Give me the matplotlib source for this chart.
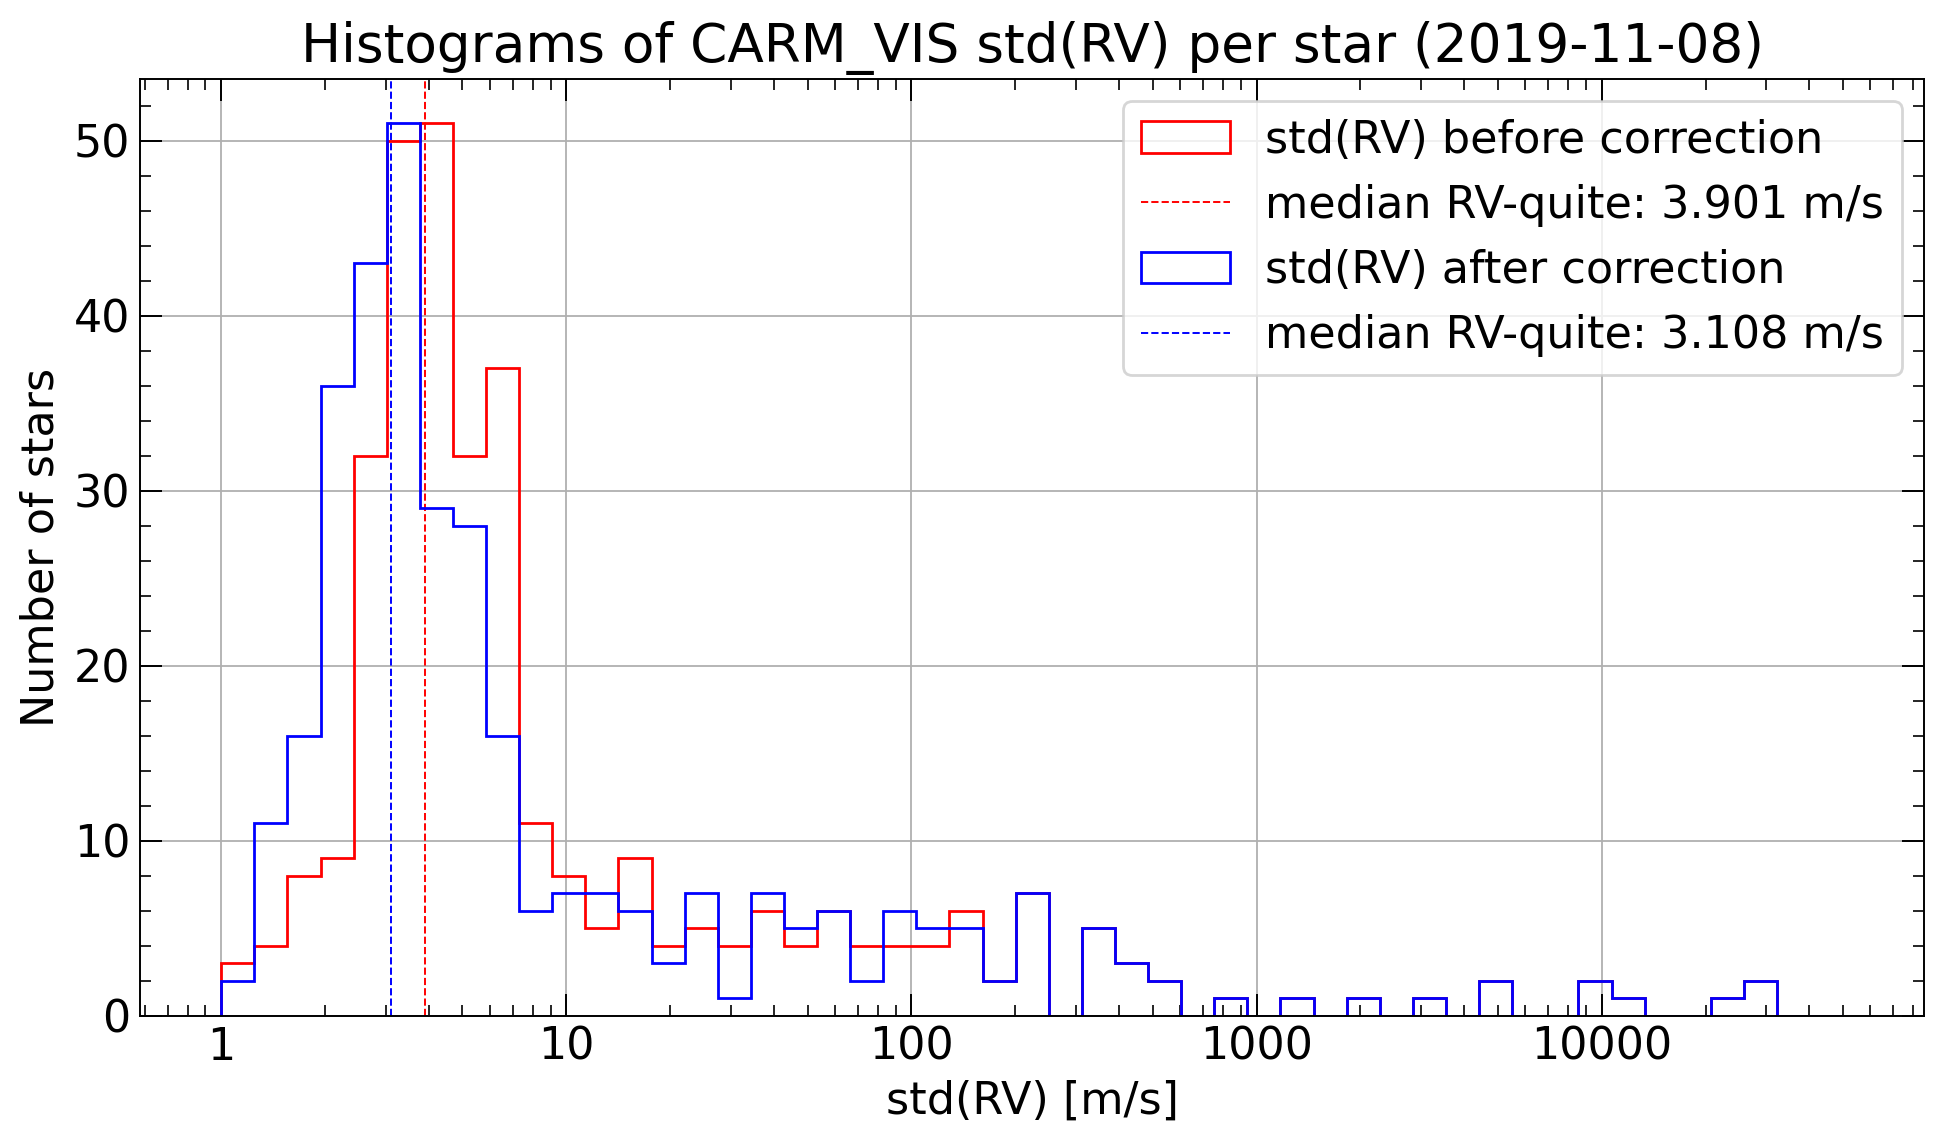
import numpy as np
import matplotlib
matplotlib.use("Agg")
import matplotlib.pyplot as plt
from matplotlib.ticker import ScalarFormatter, AutoMinorLocator

# log-spaced bins, 49 bins from 1 to 10**4.7 m/s
bin_edges = np.logspace(0, 4.7, 50)

# counts per bin
counts_before = [3, 4, 8, 9, 32, 50, 51, 32, 37, 11,
                 8, 5, 9, 4, 5, 4, 6, 4, 6, 4,
                 4, 4, 6, 2, 7, 0, 5, 3, 2, 0,
                 1, 0, 1, 0, 1, 0, 1, 0, 2, 0,
                 0, 2, 1, 0, 0, 1, 2, 0, 0]
counts_after = [2, 11, 16, 36, 43, 51, 29, 28, 16, 6,
                7, 7, 6, 3, 7, 1, 7, 5, 6, 2,
                6, 5, 5, 2, 7, 0, 5, 3, 2, 0,
                1, 0, 1, 0, 1, 0, 1, 0, 2, 0,
                0, 2, 1, 0, 0, 1, 2, 0, 0]
median_before = 3.901
median_after = 3.108

fs = 16
plt.rcParams['font.family'] = 'DejaVu Sans'
plt.rcParams['font.size'] = fs

fig = plt.figure(figsize=(1943/200, 1144/200), dpi=200)
ax = fig.add_axes([0.0721, 0.1119, 0.9183, 0.8194])

left = bin_edges[:-1]
ax.hist(left, bins=bin_edges, weights=counts_before, histtype='step',
        color='red', lw=1.0, label='std(RV) before correction')
ax.axvline(median_before, color='red', ls='--', lw=0.7,
           label='median RV-quite: %.3f m/s' % median_before)
ax.hist(left, bins=bin_edges, weights=counts_after, histtype='step',
        color='blue', lw=1.0, label='std(RV) after correction')
ax.axvline(median_after, color='blue', ls='--', lw=0.7,
           label='median RV-quite: %.3f m/s' % median_after)

ax.set_xscale('log')
ax.xaxis.set_major_formatter(ScalarFormatter())
ax.yaxis.set_minor_locator(AutoMinorLocator())
ax.tick_params(which='both', direction='in', top=True, right=True, labelsize=fs)
ax.tick_params(which='major', length=8, width=0.7)
ax.tick_params(which='minor', length=4, width=0.6)
for s in ax.spines.values():
    s.set_linewidth(0.7)
ax.grid(True, which='major', color='#b0b0b0', lw=0.65)

ax.set_xlabel('std(RV) [m/s]', fontsize=fs)
ax.set_ylabel('Number of stars', fontsize=fs)
ax.set_title('Histograms of CARM_VIS std(RV) per star (2019-11-08)', fontsize=fs*1.2)
ax.legend(loc='upper right', fontsize=fs)

fig.savefig('out.png', dpi=200)
